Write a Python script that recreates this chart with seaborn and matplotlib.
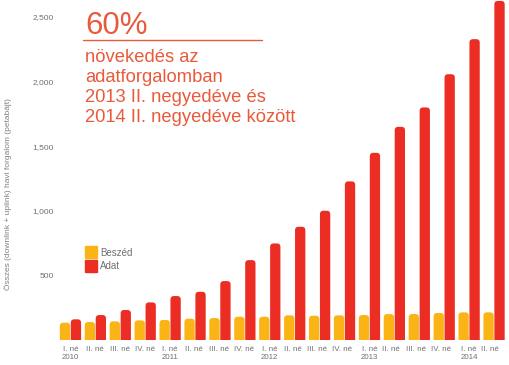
import numpy as np
import matplotlib.pyplot as plt
import pandas as pd
import seaborn as sns
from matplotlib.patches import FancyBboxPatch
from matplotlib.lines import Line2D

# negyedevek (quarters)
quarters = ['I. né\n2010', 'II. né', 'III. né', 'IV. né',
            'I. né\n2011', 'II. né ', 'III. né ', 'IV. né ',
            'I. né\n2012', 'II. né  ', 'III. né  ', 'IV. né  ',
            'I. né\n2013', 'II. né   ', 'III. né   ', 'IV. né   ',
            'I. né\n2014', 'II. né    ']
beszed = [134, 139, 144, 152, 155, 165, 170, 180, 180, 191, 188, 191,
          193, 201, 201, 209, 214, 214]
adat = [160, 193, 232, 291, 340, 373, 456, 618, 747, 876, 1000, 1227,
        1448, 1649, 1799, 2056, 2327, 2623]
yticks = [500, 1000, 1500, 2000, 2500]
yticklabels = ['500', '1,000', '1,500', '2,000', '2,500']

c_beszed = '#fbb415'
c_adat = '#ec2d24'
c_text = '#e95a3b'
grey = '#707070'

df = pd.DataFrame({
    'negyedev': quarters * 2,
    'forgalom': beszed + adat,
    'tipus': ['Beszéd'] * len(quarters) + ['Adat'] * len(quarters),
})

sns.set_style('white')
plt.rcParams['font.family'] = ['Liberation Sans', 'DejaVu Sans']

fig = plt.figure(figsize=(5.09, 3.65), dpi=100)
ax = fig.add_axes([58 / 509, 25 / 365, 448.5 / 509, 340 / 365])

sns.barplot(data=df, x='negyedev', y='forgalom', hue='tipus',
            palette=[c_beszed, c_adat], saturation=1, width=0.88, gap=0.06,
            legend=False, ax=ax)

ax.set_ylim(0, 2630)
ax.set_xlim(-0.5, len(quarters) - 0.5)

# rounded bar tops
px_x = 448.5 / len(quarters)
px_y = 340 / 2630
aspect = px_x / px_y
bars = list(ax.patches)
for p in bars:
    x, y = p.get_x(), p.get_y()
    w, h = p.get_width(), p.get_height()
    col = p.get_facecolor()
    p.remove()
    off = 40
    fb = FancyBboxPatch((x, y - off), w, h + off,
                        boxstyle='round,pad=0,rounding_size=0.14',
                        mutation_aspect=aspect, fc=col, ec='none',
                        clip_on=True)
    ax.add_patch(fb)

for s in ax.spines.values():
    s.set_visible(False)
ax.set_yticks(yticks)
ax.set_yticklabels(yticklabels)
ax.tick_params(axis='both', length=0, labelsize=6, labelcolor=grey)
ax.tick_params(axis='x', labelsize=5.7, pad=4)
ax.tick_params(axis='y', pad=3)
for lbl in ax.get_xticklabels():
    lbl.set_linespacing(1.25)
ax.set_xlabel('')
ax.set_ylabel('')

fig.text(8 / 509, 1 - 194 / 365,
         'Összes (downlink + uplink) havi forgalom (petabájt)',
         rotation=90, ha='center', va='center', fontsize=6, color='#808080')

handles = [Line2D([], [], marker='s', ls='', ms=8, mfc=c_beszed, mec=c_beszed),
           Line2D([], [], marker='s', ls='', ms=8, mfc=c_adat, mec=c_adat)]
ax.legend(handles, ['Beszéd', 'Adat'], loc='upper left',
          bbox_to_anchor=(24 / 448.5, (340 - 244) / 340), frameon=False,
          fontsize=7, labelcolor=grey, handlelength=1.0,
          handletextpad=0.5, labelspacing=0.35, borderaxespad=0)

# annotation
fig.text(85 / 509, 1 - 34 / 365, '60%', fontsize=22.5, color=c_text,
         ha='left', va='baseline')
fig.add_artist(Line2D([83 / 509, 262 / 509], [1 - 40 / 365, 1 - 40 / 365],
                      color=c_text, lw=1))
lines = ['növekedés az', 'adatforgalomban', '2013 II. negyedéve és',
         '2014 II. negyedéve között']
for i, t in enumerate(lines):
    fig.text(85 / 509, 1 - (62 + 20 * i) / 365, t, fontsize=13.2,
             color=c_text, ha='left', va='baseline')

fig.savefig('out.png', dpi=100)
